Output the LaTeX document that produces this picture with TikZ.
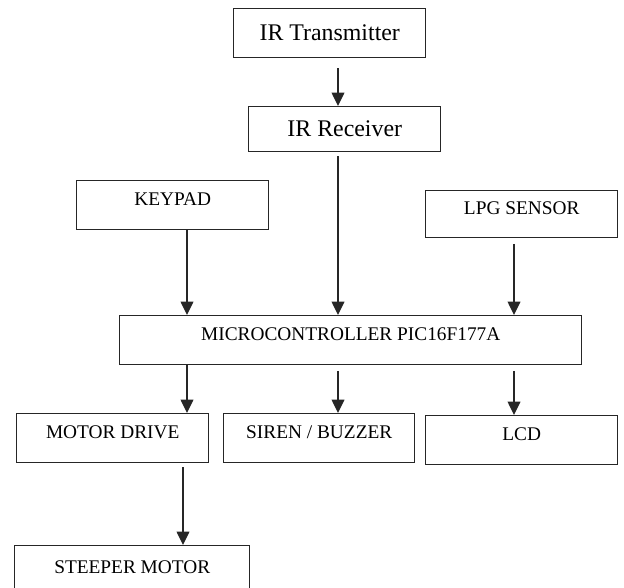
\documentclass[tikz,border=0pt]{standalone}
\usepackage{fontspec}
\setmainfont{Liberation Serif}
\usetikzlibrary{arrows.meta}
\tikzset{
	boxsize/.style 2 args={minimum width=#1*0.75pt, minimum height=#2*0.75pt},
	blk/.style={draw=black!85, line width=1.1pt, rectangle, anchor=north west, inner sep=0pt,
		font=\fontsize{14.5}{16}\selectfont, text height=10pt, text depth=9pt},
	blkmix/.style={blk, font=\fontsize{17.9}{20}\selectfont, text height=12pt, text depth=0.5pt},
	arr/.style={draw=black!85, line width=1.1pt, -{Triangle[width=9.5pt,length=10pt]}},
}
\begin{document}
\begin{tikzpicture}[x=0.75pt,y=-0.75pt]
	\useasboundingbox (0,0) rectangle (624,588);
	\coordinate (xa) at (187,0);
	\coordinate (xb) at (338,0);
	\coordinate (xc) at (514,0);
	\coordinate (xd) at (183,0);
	\node[blkmix, boxsize={192}{49}] (tx) at (233,8) {IR Transmitter};
	\node[blkmix, boxsize={192}{45}] (rx) at (248,106) {IR Receiver};
	\node[blk, boxsize={192}{49}] (key) at (76,180) {KEYPAD};
	\node[blk, boxsize={192}{47}] (lpg) at (425,190) {LPG SENSOR};
	\node[blk, boxsize={462}{49}] (mcu) at (119,315) {MICROCONTROLLER PIC16F177A};
	\node[blk, boxsize={192}{49}] (drv) at (16,413) {MOTOR DRIVE};
	\node[blk, boxsize={191}{49}] (siren) at (223,413) {SIREN / BUZZER};
	\node[blk, boxsize={192}{49}] (lcd) at (425,415) {LCD};
	\node[blk, boxsize={235}{55}] (stp) at (14,545) {STEEPER MOTOR};
	\draw [arr, shorten <=7.5pt] (tx.south -| xb) -- (rx.north -| xb);
	\draw [arr, shorten <=3pt] (rx.south -| xb) -- (mcu.north -| xb);
	\draw [arr] (key.south -| xa) -- (mcu.north -| xa);
	\draw [arr, shorten <=4pt] (lpg.south -| xc) -- (mcu.north -| xc);
	\draw [arr] (mcu.south -| xa) -- (drv.north -| xa);
	\draw [arr, shorten <=4pt] (mcu.south -| xb) -- (siren.north -| xb);
	\draw [arr, shorten <=4pt] (mcu.south -| xc) -- (lcd.north -| xc);
	\draw [arr, shorten <=3pt] (drv.south -| xd) -- (stp.north -| xd);
\end{tikzpicture}
\end{document}
